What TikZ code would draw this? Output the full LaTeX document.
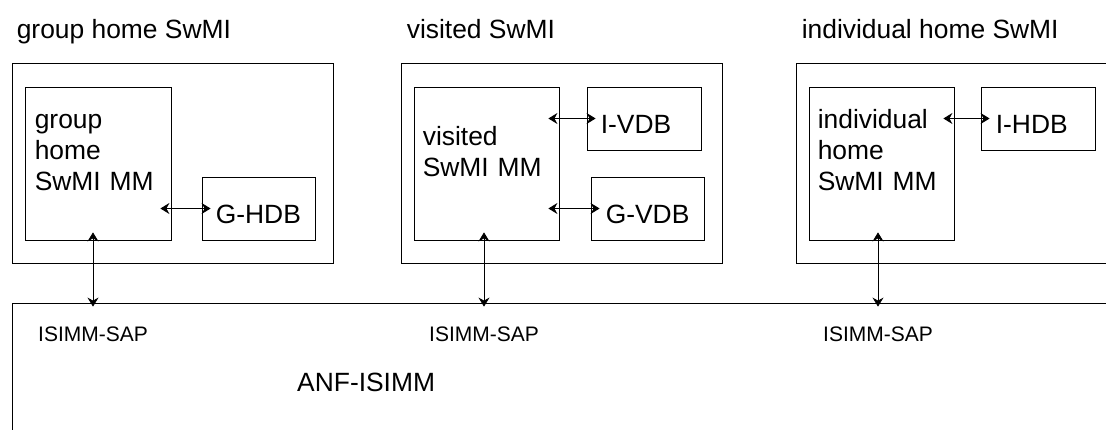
\documentclass[tikz,border=0pt]{standalone}
\usepackage{fontspec}
\setmainfont{Liberation Sans}
\usetikzlibrary{positioning}
\usetikzlibrary{calc}
\usetikzlibrary{arrows.meta}

\begin{document}
\begin{tikzpicture}[x=1pt, y=-1pt,
    box/.style={draw, line width=0.8pt, inner sep=0pt},
    big/.style={font=\fontsize{26.4}{31}\selectfont, inner sep=0pt},
    small/.style={font=\fontsize{21}{24}\selectfont, inner sep=0pt},
    mmtext/.style={big, align=left, text width=150pt, anchor=base west},
    dbtext/.style={big, anchor=base west},
    link/.style={line width=0.8pt, {Stealth[length=9pt,width=11pt,inset=3pt]}-{Stealth[length=9pt,width=11pt,inset=3pt]}},
    dblink/.style={link, shorten <=-11pt, shorten >=-9pt},
    saplink/.style={link, shorten <=-8pt, shorten >=-4pt}]
  \useasboundingbox (0,0) rectangle (1106,430);
  \clip (0,0) rectangle (1106,430);
  % SwMI boxes
  \node[box, minimum width=321pt, minimum height=200pt] (swmiG) at (172.5,163) {};
  \node[box, minimum width=321pt, minimum height=200pt] (swmiV) at (561.5,163) {};
  \node[box, minimum width=321pt, minimum height=200pt] (swmiI) at (956.5,163) {};
  \node[big, anchor=base west] (titleG) at ([xshift=5pt,yshift=24pt]swmiG.north west) {group home SwMI};
  \node[big, anchor=base west] (titleV) at ([xshift=6pt,yshift=24pt]swmiV.north west) {visited SwMI};
  \node[big, anchor=base west] (titleI) at ([xshift=6pt,yshift=24pt]swmiI.north west) {individual home SwMI};
  % MM boxes
  \node[box, minimum width=146pt, minimum height=153pt] (mmG) at (98,163.5) {};
  \node[box, minimum width=145pt, minimum height=153pt] (mmV) at (486.5,163.5) {};
  \node[box, minimum width=145pt, minimum height=153pt] (mmI) at (881.5,163.5) {};
  \node[mmtext] (mmGtext) at ([xshift=10pt,yshift=-42pt]mmG.north west) {group\\home\\SwMI MM};
  \node[mmtext] (mmVtext) at ([xshift=9pt,yshift=-59pt]mmV.north west) {visited\\SwMI MM};
  \node[mmtext] (mmItext) at ([xshift=9pt,yshift=-42pt]mmI.north west) {individual\\home\\SwMI MM};
  % Databases
  \node[box, minimum width=113pt, minimum height=63pt] (ghdb) at (258.5,208.5) {};
  \node[box, minimum width=114pt, minimum height=63pt] (ivdb) at (644,118.5) {};
  \node[box, minimum width=113pt, minimum height=63pt] (gvdb) at (647.5,208.5) {};
  \node[box, minimum width=114pt, minimum height=63pt] (ihdb) at (1038,118.5) {};
  \node[dbtext] (ghdbtext) at ([xshift=14pt,yshift=-15.5pt]ghdb.west) {G-HDB};
  \node[dbtext] (ivdbtext) at ([xshift=14pt,yshift=-15.5pt]ivdb.west) {I-VDB};
  \node[dbtext] (gvdbtext) at ([xshift=15pt,yshift=-15.5pt]gvdb.west) {G-VDB};
  \node[dbtext] (ihdbtext) at ([xshift=15pt,yshift=-15.5pt]ihdb.west) {I-HDB};
  % ANF
  \node[box, minimum width=1118pt, minimum height=147pt] (anf) at (571,376.5) {};
  \node[big, anchor=base west] (anftext) at (297,391) {ANF-ISIMM};
  % Connections
  \draw[dblink] (mmG.east |- ghdb.west) -- (ghdb.west);
  \draw[dblink] (mmV.east |- ivdb.west) -- (ivdb.west);
  \draw[dblink] (mmV.east |- gvdb.west) -- (gvdb.west);
  \draw[dblink] (mmI.east |- ihdb.west) -- (ihdb.west);
  \draw[saplink] ([xshift=-5pt]mmG.south) -- ([xshift=-5pt]mmG.south |- anf.north)
    node[small, anchor=base, yshift=-39pt] (sapG) {ISIMM-SAP};
  \draw[saplink] ([xshift=-2.5pt]mmV.south) -- ([xshift=-2.5pt]mmV.south |- anf.north)
    node[small, anchor=base, yshift=-39pt] (sapV) {ISIMM-SAP};
  \draw[saplink] ([xshift=-3.5pt]mmI.south) -- ([xshift=-3.5pt]mmI.south |- anf.north)
    node[small, anchor=base, yshift=-39pt] (sapI) {ISIMM-SAP};
\end{tikzpicture}
\end{document}
